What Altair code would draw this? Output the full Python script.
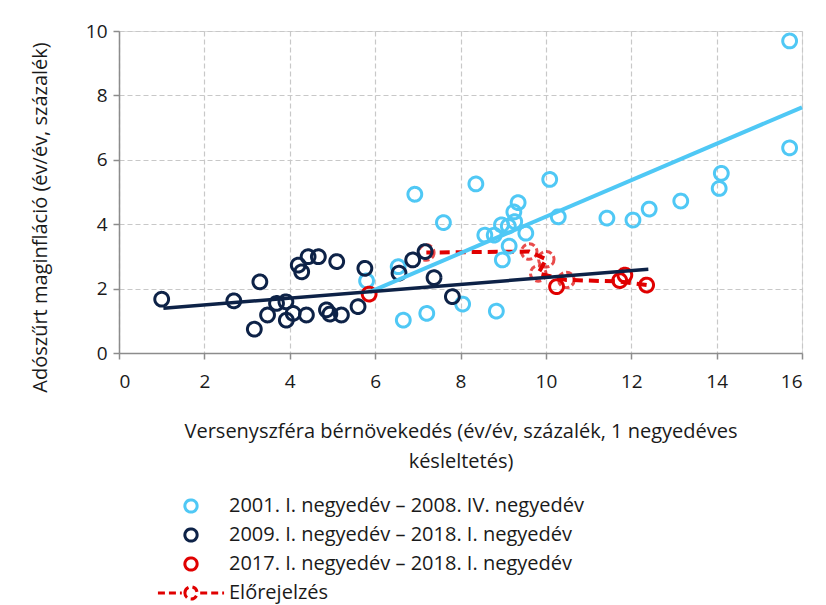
import altair as alt
import pandas as pd

S1 = "2001. I. negyedév – 2008. IV. negyedév"
S2 = "2009. I. negyedév – 2018. I. negyedév"
S3 = "2017. I. negyedév – 2018. I. negyedév"
S4 = "Előrejelzés"
series_names = [S1, S2, S3, S4]
series_colors = ["#4FC8F5", "#0D2247", "#E00000", "#E00000"]

# 2001-2008 points
x1 = [15.71, 15.71, 14.11, 14.06, 13.16, 12.42, 12.04, 11.43, 10.29, 10.09, 8.36, 6.93,
      7.60, 9.35, 9.25, 9.27, 8.96, 9.12, 8.79, 8.57, 9.53, 9.14, 8.98, 8.84, 7.21, 6.66,
      8.05, 5.80, 6.54]
y1 = [9.69, 6.37, 5.58, 5.11, 4.72, 4.47, 4.13, 4.19, 4.23, 5.39, 5.25, 4.93,
      4.05, 4.67, 4.38, 4.08, 3.98, 3.94, 3.66, 3.66, 3.72, 3.32, 2.89, 1.30, 1.23, 1.02,
      1.52, 2.24, 2.68]
# 2009-2018 points
x2 = [1.00, 2.69, 3.30, 3.17, 3.48, 3.69, 3.91, 3.92, 4.08, 4.39, 4.20, 4.28, 4.43, 4.67,
      5.10, 4.86, 4.94, 5.21, 5.60, 5.76, 6.56, 6.88, 7.17, 7.38, 7.81]
y2 = [1.67, 1.62, 2.21, 0.74, 1.18, 1.54, 1.59, 1.02, 1.23, 1.18, 2.73, 2.52, 2.99, 2.99,
      2.84, 1.34, 1.21, 1.18, 1.44, 2.63, 2.48, 2.89, 3.15, 2.34, 1.75]
# 2017-2018 points
x3 = [5.86, 10.25, 11.73, 11.85, 12.36]
y3 = [1.83, 2.06, 2.25, 2.42, 2.11]
# forecast path (starts from last actual)
xf = [12.36, 11.73, 10.48, 9.82, 10.01, 9.61, 7.20]
yf = [2.11, 2.22, 2.27, 2.47, 2.91, 3.15, 3.12]
fmark = [False, False, True, True, True, True, True]
# trend lines (end points)
t1x = [5.88, 16.0]
t1y = [1.90, 7.63]
t2x = [1.04, 12.40]
t2y = [1.39, 2.60]

pts = pd.DataFrame(
    {"x": x1 + x2 + x3,
     "y": y1 + y2 + y3,
     "series": [S1] * len(x1) + [S2] * len(x2) + [S3] * len(x3),
     "z": [0] * len(x1) + [1] * len(x2) + [2] * len(x3)}
)
fc = pd.DataFrame({"x": xf, "y": yf, "o": list(range(len(xf))), "m": fmark})
fcm = fc[fc["m"]].copy()
trend1 = pd.DataFrame({"x": t1x, "y": t1y})
trend2 = pd.DataFrame({"x": t2x, "y": t2y})

FONT = "Open Sans"
TXT = "#1a1a1a"
xsc = alt.Scale(domain=[0, 16], nice=False, zero=False)
ysc = alt.Scale(domain=[0, 10], nice=False)

xax = alt.Axis(values=list(range(0, 17, 2)),
               title=["Versenyszféra bérnövekedés (év/év, százalék, 1 negyedéves", "késleltetés)"],
               titleFont=FONT, titleFontSize=20, titleFontWeight="normal", titleColor=TXT,
               titlePadding=30, titleLineHeight=30,
               labelFont=FONT, labelFontSize=19, labelColor=TXT, labelPadding=13,
               domainColor="#8c8c8c", domainWidth=1.5, tickColor="#8c8c8c", tickSize=6, tickWidth=1.5,
               grid=True, gridColor="#c8c8c8", gridDash=[5, 3], gridWidth=1.2)
yax = alt.Axis(values=list(range(0, 11, 2)), title="Adószűrt maginfláció (év/év, százalék)",
               titleFont=FONT, titleFontSize=20, titleFontWeight="normal", titleColor=TXT,
               titleX=-79, titleY=186, titleAngle=-90, titleBaseline="middle", titleAlign="center",
               labelFont=FONT, labelFontSize=19, labelColor=TXT, labelPadding=6,
               domainColor="#8c8c8c", domainWidth=1.5, tickColor="#8c8c8c", tickSize=6, tickWidth=1.5,
               grid=True, gridColor="#c8c8c8", gridDash=[5, 3], gridWidth=1.2)

legend_path = "M-5.4,0L-1.5,0M-1,0A1,1,0,1,1,1,0A1,1,0,1,1,-1,0M1.5,0L5.4,0"

points = alt.Chart(pts).mark_point(filled=False, strokeWidth=3, size=190, opacity=1).encode(
    x=alt.X("x:Q", scale=xsc, axis=xax),
    y=alt.Y("y:Q", scale=ysc, axis=yax),
    color=alt.Color("series:N", scale=alt.Scale(domain=series_names, range=series_colors),
                    legend=alt.Legend(title=None, orient="none", legendX=62, legendY=465,
                                      labelFont=FONT, labelFontSize=20, labelColor=TXT,
                                      symbolStrokeWidth=3, symbolSize=150, labelOffset=28,
                                      rowPadding=3, labelLimit=700)),
    shape=alt.Shape("series:N", scale=alt.Scale(domain=series_names,
                                                 range=["circle", "circle", "circle", legend_path])),
    strokeDash=alt.StrokeDash("series:N", scale=alt.Scale(domain=series_names,
                                                          range=[[1, 0], [1, 0], [1, 0], [7, 4]])),
    order=alt.Order("z:Q"),
)

fline = alt.Chart(fc).mark_line(color="#E00000", strokeWidth=4, strokeDash=[10, 6]).encode(
    x="x:Q", y="y:Q", order="o:Q")
fpts = alt.Chart(fcm).mark_point(filled=False, color="#E00000", strokeWidth=3, size=240,
                                 strokeDash=[6, 3], shape="circle").encode(x="x:Q", y="y:Q")
tl1 = alt.Chart(trend1).mark_line(color="#4FC8F5", strokeWidth=4).encode(x="x:Q", y="y:Q")
tl2 = alt.Chart(trend2).mark_line(color="#0D2247", strokeWidth=3.5).encode(x="x:Q", y="y:Q")

chart = alt.layer(fline, fpts, points, tl1, tl2).properties(
    width=683, height=322,
    autosize=alt.AutoSizeParams(type="none"),
    padding={"left": 111, "top": 23, "right": 16, "bottom": 252},
).configure_view(stroke=None).configure(background="white")

chart.save("out.html", embed_options={"renderer": "svg", "actions": False})
